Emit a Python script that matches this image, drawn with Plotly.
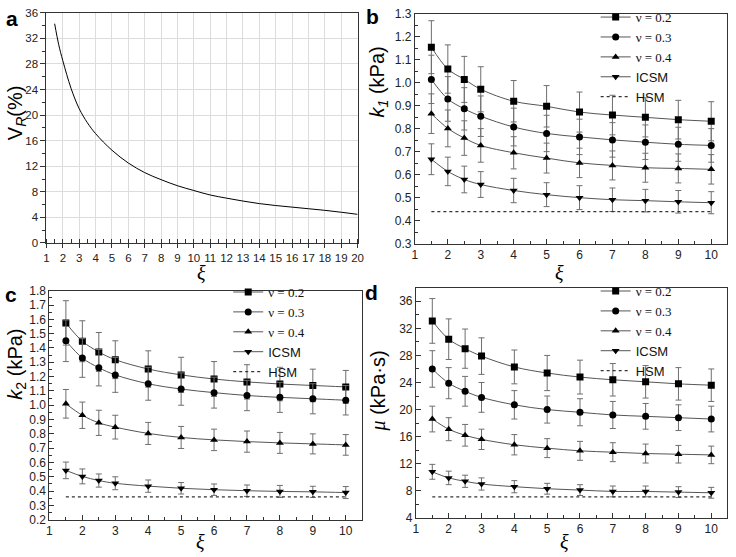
import plotly.graph_objs as go

# panel a: V_R (%) vs xi
xi_a = [1.5, 1.75, 2, 2.5, 3, 3.5, 4, 5, 6, 7, 8, 9, 10, 11, 12, 13, 14, 15, 16, 17, 18, 19, 20]
vr = [34.3, 31.0, 28.5, 24.2, 21.0, 18.8, 17.1, 14.5, 12.5, 11.0, 9.9, 8.95, 8.2, 7.5,
      7.0, 6.55, 6.15, 5.85, 5.6, 5.35, 5.1, 4.8, 4.47]

# panels b-d share the same xi points
xi = [1.5, 2, 2.5, 3, 4, 5, 6, 7, 8, 9, 10]
hsm_xi = [1.5, 10]

names = ["ν = 0.2", "ν = 0.3", "ν = 0.4", "ICSM"]
symbols = ["square", "circle", "triangle-up", "triangle-down"]

# b: k1 (kPa)
k1 = [
    [1.155, 1.06, 1.015, 0.972, 0.92, 0.898, 0.873, 0.86, 0.85, 0.84, 0.833],
    [1.015, 0.93, 0.887, 0.855, 0.808, 0.78, 0.765, 0.752, 0.742, 0.733, 0.728],
    [0.866, 0.802, 0.76, 0.728, 0.696, 0.673, 0.652, 0.641, 0.631, 0.628, 0.624],
    [0.668, 0.615, 0.58, 0.558, 0.532, 0.514, 0.501, 0.492, 0.488, 0.483, 0.479],
]
k1_err = [
    [0.115, 0.105, 0.10, 0.098, 0.09, 0.09, 0.087, 0.086, 0.085, 0.084, 0.085],
    [0.105, 0.097, 0.092, 0.088, 0.082, 0.079, 0.077, 0.075, 0.075, 0.074, 0.073],
    [0.086, 0.08, 0.075, 0.073, 0.07, 0.065, 0.064, 0.063, 0.063, 0.063, 0.064],
    [0.067, 0.062, 0.058, 0.056, 0.053, 0.052, 0.052, 0.051, 0.049, 0.049, 0.048],
]
k1_hsm = [0.44, 0.44]

# c: k2 (kPa)
k2 = [
    [1.575, 1.447, 1.372, 1.318, 1.253, 1.212, 1.183, 1.163, 1.148, 1.138, 1.128],
    [1.45, 1.33, 1.262, 1.212, 1.15, 1.113, 1.088, 1.068, 1.055, 1.045, 1.035],
    [1.01, 0.93, 0.877, 0.847, 0.803, 0.775, 0.758, 0.746, 0.737, 0.73, 0.723],
    [0.545, 0.503, 0.474, 0.455, 0.435, 0.42, 0.41, 0.403, 0.398, 0.395, 0.39],
]
k2_err = [
    [0.155, 0.143, 0.136, 0.132, 0.127, 0.123, 0.122, 0.12, 0.117, 0.114, 0.115],
    [0.145, 0.135, 0.127, 0.122, 0.115, 0.113, 0.108, 0.106, 0.105, 0.105, 0.103],
    [0.10, 0.092, 0.088, 0.083, 0.077, 0.077, 0.075, 0.074, 0.073, 0.07, 0.072],
    [0.058, 0.052, 0.046, 0.045, 0.043, 0.04, 0.04, 0.04, 0.042, 0.039, 0.042],
]
k2_hsm = [0.36, 0.36]

# d: mu (kPa s)
mu = [
    [33.1, 30.4, 29.0, 27.9, 26.3, 25.4, 24.8, 24.4, 24.1, 23.8, 23.6],
    [26.0, 23.9, 22.7, 21.8, 20.7, 20.0, 19.6, 19.2, 19.0, 18.8, 18.6],
    [18.6, 17.1, 16.2, 15.6, 14.8, 14.3, 13.9, 13.7, 13.5, 13.4, 13.3],
    [10.8, 9.9, 9.4, 9.0, 8.6, 8.3, 8.1, 7.9, 7.9, 7.8, 7.7],
]
mu_err = [
    [3.3, 3.0, 2.9, 2.7, 2.5, 2.6, 2.5, 2.4, 2.4, 2.4, 2.4],
    [2.7, 2.3, 2.2, 2.2, 2.1, 2.0, 2.0, 2.0, 1.9, 1.9, 1.9],
    [1.9, 1.7, 1.6, 1.5, 1.5, 1.4, 1.4, 1.4, 1.4, 1.3, 1.3],
    [1.1, 1.0, 0.9, 0.9, 0.9, 0.8, 0.8, 0.8, 0.8, 0.8, 0.8],
]
mu_hsm = [7.1, 7.1]

W, H = 736, 557
SANS = "Liberation Sans"
SERIF = "Liberation Serif"


def px(x):
    return x / W


def py(y):
    return 1 - y / H


def add_panel(fig, series, errs, hsm, n, legend):
    for ys, es, name, sym in zip(series, errs, names, symbols):
        if name.startswith("ν"):
            label = "<span style='font-family:%s'>%s</span>" % (SERIF, name)
        else:
            label = name
        fig.add_trace(go.Scatter(
            x=xi, y=ys, mode="lines+markers", name=label,
            error_y=dict(type="data", array=es, color="#6e6e6e", thickness=1, width=3),
            line=dict(color="#555555", width=1, shape="spline"),
            marker=dict(symbol=sym, size=7, color="black"),
            xaxis="x" + n, yaxis="y" + n, legend=legend))
    fig.add_trace(go.Scatter(
        x=hsm_xi, y=hsm, mode="lines", name="HSM",
        line=dict(color="#333333", width=1.2, dash="dot"),
        xaxis="x" + n, yaxis="y" + n, legend=legend))


fig = go.Figure()
fig.add_trace(go.Scatter(x=xi_a, y=vr, mode="lines", line=dict(color="black", width=1, shape="spline"),
                         showlegend=False))
add_panel(fig, k1, k1_err, k1_hsm, "2", "legend")
add_panel(fig, k2, k2_err, k2_hsm, "3", "legend2")
add_panel(fig, mu, mu_err, mu_hsm, "4", "legend3")

tickfont = dict(family=SANS, size=12, color="#222222")
base = dict(linecolor="#333333", linewidth=1, mirror=True, zeroline=False, tickfont=tickfont,
            tickcolor="#333333", tickwidth=1)
inside_x = dict(base, ticks="inside", ticklen=5, showgrid=False, range=[1, 10.48], tick0=1, dtick=1,
                minor=dict(ticks="inside", ticklen=3, dtick=0.5, tickcolor="#333333"))
inside_y = dict(base, ticks="inside", ticklen=5, showgrid=False)

leg = dict(bgcolor="rgba(0,0,0,0)", borderwidth=0, font=dict(family=SANS, size=13, color="#111111"),
           xanchor="left", yanchor="top", tracegroupgap=0)

fig.update_layout(
    width=W, height=H,
    margin=dict(l=0, r=0, t=0, b=0),
    paper_bgcolor="white", plot_bgcolor="white",
    xaxis=dict(base, domain=[px(44), px(359)], range=[1, 20], dtick=1, tick0=1, anchor="y",
               ticks="outside", ticklen=4, showgrid=True, gridcolor="#dcdcdc",
               tickfont=dict(family=SANS, size=11.5, color="#222222"),
               minor=dict(ticks="inside", ticklen=4, dtick=0.5, tickcolor="#333333")),
    yaxis=dict(base, domain=[py(242), py(6)], range=[0, 36], dtick=4, anchor="x",
               ticks="outside", ticklen=5, showgrid=True, gridcolor="#dcdcdc",
               tickfont=dict(family=SANS, size=11.5, color="#222222"),
               minor=dict(ticks="outside", ticklen=3, dtick=2, tickcolor="#333333")),
    xaxis2=dict(inside_x, domain=[px(417), px(733)], anchor="y2"),
    yaxis2=dict(inside_y, domain=[py(243), py(7)], range=[0.3, 1.3], dtick=0.1, tickformat=".1f",
                anchor="x2", minor=dict(ticks="inside", ticklen=3, dtick=0.05, tickcolor="#333333")),
    xaxis3=dict(inside_x, domain=[px(47), px(363)], anchor="y3"),
    yaxis3=dict(inside_y, domain=[py(526), py(291)], range=[0.2, 1.8], dtick=0.1, tickformat=".1f",
                anchor="x3", minor=dict(ticks="inside", ticklen=3, dtick=0.05, tickcolor="#333333")),
    xaxis4=dict(inside_x, domain=[px(418), px(733)], anchor="y4"),
    yaxis4=dict(inside_y, domain=[py(524), py(288)], range=[4, 38], dtick=4, tick0=0,
                anchor="x4", minor=dict(ticks="inside", ticklen=3, dtick=2, tickcolor="#333333")),
    legend=dict(leg, x=px(600), y=py(-5)),
    legend2=dict(leg, x=px(228), y=py(277)),
    legend3=dict(leg, x=px(600), y=py(276)),
)

# panel letters, axis titles
notes = [
    ("<b>a</b>", 9, 12, 21, SANS, 0, "middle"),
    ("<b>b</b>", 374, 10, 21, SANS, 0, "middle"),
    ("<b>c</b>", 8, 295, 21, SANS, 0, "middle"),
    ("<b>d</b>", 373, 293, 21, SANS, 0, "middle"),
    ("V<sub><i>R</i></sub>(%)", 13, 108, 20, SANS, -90, "middle"),
    ("<i>k<sub>1</sub></i> (kPa)", 380, 77, 20, SANS, -90, "middle"),
    ("<i>k</i><sub>2</sub> (kPa)", 14, 366, 20, SANS, -90, "middle"),
    ("<span style='font-family:%s'><i>μ</i></span> (kPa·s)" % SERIF, 380, 394, 20, SANS, -90, "middle"),
    ("<i>ξ</i>", 201, 273, 20, SERIF, 0, "middle"),
    ("<i>ξ</i>", 563, 273, 20, SERIF, 0, "middle"),
    ("<i>ξ</i>", 200, 561, 20, SERIF, 0, "bottom"),
    ("<i>ξ</i>", 568, 561, 20, SERIF, 0, "bottom"),
]
for text, x, y, size, family, angle, va in notes:
    fig.add_annotation(text=text, x=px(x), y=py(y), xref="paper", yref="paper", showarrow=False,
                       xanchor="center", yanchor=va, textangle=angle, borderpad=0,
                       font=dict(family=family, size=size, color="black"))

# drop the default 8px page margin so the figure sits at the window's corner
fig.write_html("out.html", config={"displayModeBar": False},
               post_script="document.body.style.margin='0px';")
